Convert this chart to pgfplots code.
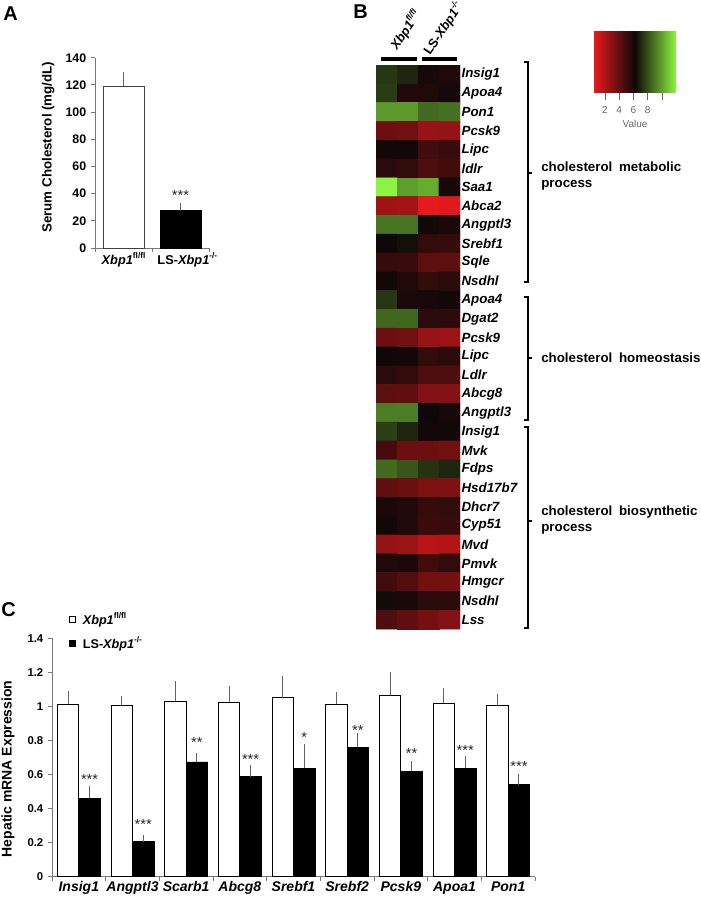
\documentclass[border=0pt]{standalone}
\usepackage{fontspec}
\setmainfont{Liberation Sans}
\usepackage{pgfplots}
\pgfplotsset{compat=1.18}
\definecolor{axgray}{RGB}{120,120,120}
\definecolor{errgray}{RGB}{100,100,100}
\definecolor{hred}{RGB}{230,25,28}
\definecolor{hblack}{RGB}{15,8,8}
\definecolor{hgreen}{RGB}{140,245,65}
\newcommand{\sups}[1]{\raisebox{0.85ex}{\fontsize{6.2}{6}\selectfont #1}}
\begin{document}
\begin{tikzpicture}
%% ---------------- Panel A ----------------
\begin{axis}[
  at={(71.25pt,-186pt)}, anchor=south west, scale only axis,
  width=85.5pt, height=142.7pt,
  xmin=-0.5, xmax=1.5, ymin=0, ymax=140,
  axis x line=bottom, axis y line=left,
  axis line style={axgray,-,line width=0.7pt},
  tick align=outside, major tick length=3pt,
  tick style={axgray, line width=0.7pt},
  ytick={0,20,40,60,80,100,120,140},
  xtick={-0.5,0.5,1.5}, xticklabels={},
  extra x ticks={0,1.12},
  extra x tick labels={\textit{Xbp1}\sups{fl/fl}, LS-\textit{Xbp1}\sups{-/-}},
  extra x tick style={major tick length=0pt},
  x tick label style={font=\fontsize{9.6}{11}\selectfont\bfseries},
  y tick label style={font=\fontsize{9.3}{11}\selectfont\bfseries},
  /pgf/number format/assume math mode=true,
  ylabel={Serum Cholesterol (mg/dL)},
  ylabel style={at={(axis description cs:-0.41,0.53)}, anchor=center, font=\fontsize{10}{12}\selectfont\bfseries},
  clip=false,
]
\addplot[ybar, bar width=0.72, bar shift=0pt, fill=white, draw=black!75, line width=0.6pt,
  error bars/.cd, y dir=plus, y explicit,
  error bar style={errgray, line width=0.7pt},
  error mark options={errgray, mark size=2.2pt, line width=0.7pt}]
  coordinates {(0,119) +- (0,8)};
\addplot[ybar, bar width=0.72, bar shift=0pt, fill=black, draw=black, line width=0.6pt,
  error bars/.cd, y dir=plus, y explicit,
  error bar style={errgray, line width=0.7pt},
  error mark options={errgray, mark size=2.2pt, line width=0.7pt}]
  coordinates {(1,27.5) +- (0,3.5)};
\node[font=\fontsize{11}{12}\selectfont, text=black!85] at (axis cs:1,38.3) {***};
\end{axis}

%% ---------------- Panel B heatmap ----------------
\begin{axis}[
  at={(282pt,-471.75pt)}, anchor=south west, scale only axis,
  width=63pt, height=423pt,
  xmin=-0.5, xmax=3.5, ymin=-0.5, ymax=29.5, y dir=reverse,
  enlargelimits=false,
  axis line style={draw=none},
  xtick=\empty,
  ytick={0,...,29},
  yticklabels={Insig1,Apoa4,Pon1,Pcsk9,Lipc,ldlr,Saa1,Abca2,Angptl3,Srebf1,Sqle,Nsdhl,Apoa4,Dgat2,Pcsk9,Lipc,Ldlr,Abcg8,Angptl3,Insig1,Mvk,Fdps,Hsd17b7,Dhcr7,Cyp51,Mvd,Pmvk,Hmgcr,Nsdhl,Lss},
  yticklabel pos=right,
  ytick style={draw=none},
  y tick label style={font=\fontsize{10}{12}\selectfont\bfseries\itshape, anchor=west, inner xsep=1pt},
  colormap={rg}{rgb255=(230,25,28) rgb255=(15,8,8) rgb255=(140,245,65)},
  point meta min=0.5, point meta max=11.5,
]
\addplot[matrix plot*, mesh/cols=4, point meta=explicit] table[meta=c] {
x y c
0 0 7.1
1 0 6.7
2 0 5.8
3 0 5.6
0 1 7.2
1 1 5.5
2 1 5.6
3 1 5.8
0 2 9.4
1 2 9.4
2 2 8.3
3 2 8.4
0 3 3.6
1 3 3.5
2 3 2.5
3 3 2.6
0 4 5.9
1 4 5.9
2 4 4.7
3 4 4.9
0 5 5.3
1 5 5.1
2 5 4.4
3 5 4.7
0 6 11.5
1 6 9.5
2 6 9.8
3 6 5.8
0 7 2.3
1 7 2.2
2 7 0.5
3 7 0.6
0 8 8.5
1 8 8.5
2 8 5.9
3 8 5.7
0 9 6.0
1 9 6.2
2 9 5.1
3 9 5.0
0 10 5.0
1 10 4.9
2 10 4.0
3 10 4.0
0 11 5.9
1 11 5.6
2 11 5.1
3 11 5.3
0 12 7.1
1 12 5.7
2 12 5.8
3 12 5.9
0 13 8.2
1 13 8.2
2 13 5.3
3 13 5.3
0 14 3.6
1 14 3.5
2 14 2.5
3 14 2.4
0 15 6.0
1 15 5.9
2 15 5.1
3 15 5.3
0 16 5.3
1 16 5.1
2 16 4.4
3 16 4.4
0 17 4.0
1 17 3.9
2 17 3.0
3 17 3.0
0 18 8.7
1 18 8.7
2 18 6.0
3 18 5.8
0 19 7.3
1 19 6.7
2 19 5.9
3 19 5.9
0 20 4.6
1 20 3.6
2 20 3.6
3 20 3.5
0 21 8.3
1 21 7.8
2 21 7.0
3 21 6.7
0 22 3.9
1 22 3.7
2 22 3.2
3 22 3.2
0 23 5.7
1 23 5.6
2 23 5.0
3 23 5.1
0 24 5.9
1 24 5.6
2 24 4.9
3 24 5.0
0 25 2.6
1 25 2.4
2 25 1.7
3 25 1.8
0 26 5.6
1 26 5.7
2 26 4.7
3 26 5.1
0 27 4.7
1 27 4.3
2 27 3.4
3 27 3.4
0 28 6.1
1 28 5.7
2 28 5.3
3 28 5.3
0 29 4.4
1 29 3.9
2 29 3.4
3 29 3.0
};
\end{axis}

%% ---------------- colour key ----------------
\begin{axis}[
  at={(445.5pt,-69.75pt)}, anchor=south west, scale only axis,
  width=61.5pt, height=45.75pt,
  xmin=0.46, xmax=11.96, ymin=0, ymax=1,
  axis line style={draw=none},
  ytick=\empty,
  xtick pos=bottom,
  xtick={2,4,6,8,10}, xticklabels={2,4,6,8,{}},
  tick align=outside, major tick length=5pt,
  xtick style={black!60, line width=0.6pt},
  x tick label style={font=\fontsize{7.5}{8}\selectfont, text=black!60, yshift=-1.5pt},
  xlabel={Value}, xlabel style={font=\fontsize{7.5}{8}\selectfont, text=black!60, yshift=2pt},
  /pgf/number format/assume math mode=true,
]
\shade[left color=hred, right color=hgreen, middle color=hblack] (axis cs:0.46,0) rectangle (axis cs:11.96,1);
\end{axis}

%% ---------------- Panel C ----------------
\begin{axis}[
  at={(39pt,-657.5pt)}, anchor=south west, scale only axis,
  width=362.25pt, height=178.8pt,
  xmin=-0.5, xmax=8.5, ymin=0, ymax=1.4,
  axis x line=bottom, axis y line=left,
  axis line style={axgray,-,line width=0.7pt},
  tick align=outside, major tick length=3pt,
  tick style={axgray, line width=0.7pt},
  ytick={0,0.2,0.4,0.6,0.8,1,1.2,1.4},
  xtick={-0.5,0.5,...,8.5}, xticklabels={},
  extra x ticks={0,1,2,3,4,5,6,7,8},
  extra x tick labels={Insig1,Angptl3,Scarb1,Abcg8,Srebf1,Srebf2,Pcsk9,Apoa1,Pon1},
  extra x tick style={major tick length=0pt},
  x tick label style={font=\fontsize{10.5}{12}\selectfont\bfseries\itshape},
  y tick label style={font=\fontsize{8.5}{10}\selectfont\bfseries},
  /pgf/number format/assume math mode=true,
  ylabel={Hepatic mRNA Expression},
  ylabel style={at={(axis description cs:-0.091,0.452)}, anchor=center, font=\fontsize{10.5}{12}\selectfont\bfseries},
  legend cell align=left,
  legend style={at={(0.034,1.115)}, anchor=north west, draw=none, fill=none, inner sep=0pt,
    row sep=6pt, font=\fontsize{9.5}{11}\selectfont\bfseries,
    nodes={inner sep=1pt}},
  clip=false,
]
\addplot[ybar, bar width=0.4, bar shift=0pt, fill=white, draw=black, line width=0.6pt,
  legend image code/.code={\draw[fill=white,draw=black,line width=0.6pt] (0pt,-2.25pt) rectangle (4.5pt,2.25pt);},
  error bars/.cd, y dir=plus, y explicit,
  error bar style={errgray, line width=0.7pt},
  error mark options={errgray, mark size=2.2pt, line width=0.7pt}]
  coordinates {(-0.2,1.013) +- (0,0.06) (0.8,1.007) +- (0,0.035) (1.8,1.032) +- (0,0.098) (2.8,1.025) +- (0,0.08) (3.8,1.05) +- (0,0.11) (4.8,1.014) +- (0,0.051) (5.8,1.065) +- (0,0.119) (6.8,1.02) +- (0,0.069) (7.8,1.008) +- (0,0.047)};
\addlegendentry{\hspace{4.5pt}\textit{Xbp1}\sups{fl/fl}}
\addplot[ybar, bar width=0.4, bar shift=0pt, fill=black, draw=black, line width=0.6pt,
  legend image code/.code={\draw[fill=black,draw=black,line width=0.6pt] (0pt,-2.25pt) rectangle (4.5pt,2.25pt);},
  error bars/.cd, y dir=plus, y explicit,
  error bar style={errgray, line width=0.7pt},
  error mark options={errgray, mark size=2.2pt, line width=0.7pt}]
  coordinates {(0.2,0.46) +- (0,0.053) (1.2,0.206) +- (0,0.021) (2.2,0.674) +- (0,0.033) (3.2,0.586) +- (0,0.054) (4.2,0.637) +- (0,0.123) (5.2,0.761) +- (0,0.063) (6.2,0.62) +- (0,0.043) (7.2,0.637) +- (0,0.053) (8.2,0.539) +- (0,0.047)};
\addlegendentry{\hspace{4.5pt}LS-\textit{Xbp1}\sups{-/-}}
\begin{scope}[every node/.style={font=\fontsize{11}{12}\selectfont, text=black!85}]
\node at (axis cs:0.2,0.570) {***};
\node at (axis cs:1.2,0.309) {***};
\node at (axis cs:2.2,0.786) {**};
\node at (axis cs:3.2,0.688) {***};
\node at (axis cs:4.2,0.819) {*};
\node at (axis cs:5.2,0.858) {**};
\node at (axis cs:6.2,0.723) {**};
\node at (axis cs:7.2,0.743) {***};
\node at (axis cs:8.2,0.645) {***};
\end{scope}
\end{axis}

%% ---------------- annotations ----------------
\begin{scope}[x=0.75pt,y=-0.75pt]
\node[font=\fontsize{15}{15}\selectfont\bfseries] at (10.5,13.5) {A};
\node[font=\fontsize{15}{15}\selectfont\bfseries] at (360.5,12) {B};
\node[font=\fontsize{15}{15}\selectfont\bfseries] at (8.5,609.5) {C};
\draw[line width=3pt] (381,59) -- (417,59);
\draw[line width=3pt] (422,59) -- (457,59);
\node[rotate=56, anchor=base west, font=\fontsize{9.6}{12}\selectfont\bfseries\itshape, inner sep=0pt] at (397,51) {Xbp1\sups{fl/fl}};
\node[rotate=56, anchor=base west, font=\fontsize{9.6}{12}\selectfont\bfseries\itshape, inner sep=0pt] at (430,56) {\textup{LS-}Xbp1\sups{-/-}};
\draw[line width=1.5pt] (524,62) -- (528,62) -- (528,282) -- (524,282);
\draw[line width=1.5pt] (528,173) -- (532,173);
\draw[line width=1.5pt] (524,297) -- (528,297) -- (528,420) -- (524,420);
\draw[line width=1.5pt] (528,358) -- (532,358);
\draw[line width=1.5pt] (524,427) -- (528,427) -- (528,628) -- (524,628);
\draw[line width=1.5pt] (528,521) -- (532,521);
\node[anchor=west, align=left, font=\fontsize{10}{12}\selectfont\bfseries, inner sep=0pt] at (541,176) {cholesterol\hspace{5pt}metabolic\\process};
\node[anchor=west, align=left, font=\fontsize{10}{12}\selectfont\bfseries, inner sep=0pt] at (541,358) {cholesterol\hspace{5pt}homeostasis};
\node[anchor=west, align=left, font=\fontsize{10}{12}\selectfont\bfseries, inner sep=0pt] at (541,520) {cholesterol\hspace{5pt}biosynthetic\\process};
\pgfresetboundingbox
\path[use as bounding box] (0,0) rectangle (700,902);
\end{scope}
\end{tikzpicture}
\end{document}
